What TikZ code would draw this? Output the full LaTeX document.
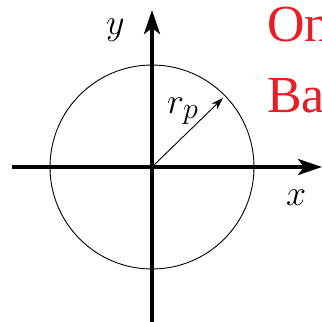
\documentclass[tikz,border=0pt]{standalone}
\usepackage{fontspec}
\newfontfamily\redfont{Liberation Serif}
\usetikzlibrary{arrows.meta}
\definecolor{redtext}{RGB}{232,30,38}
\newcommand{\bigmath}[1]{\scalebox{1.45}{\fontsize{24.88}{28}\selectfont$#1$}}
\begin{document}
\begin{tikzpicture}[x=1pt,y=-1pt,
  axis/.style={line width=3.8pt,-{Stealth[length=24pt,width=16pt,inset=6pt]}},
  thinline/.style={line width=0.9pt},
  mathlabel/.style={inner sep=0pt,anchor=base west},
  redlabel/.style={inner sep=0pt,anchor=base west,text=redtext,font=\redfont\fontsize{52}{56}\selectfont}]
\useasboundingbox (0,0) rectangle (322,322);
\coordinate (O) at (152,167);
\coordinate (xs) at (12,167);
\coordinate (xe) at (322,167);
\coordinate (ys) at (152,330);
\coordinate (ye) at (152,10);
\coordinate (rp) at (223,98);
\draw[thinline] (O) circle[radius=102];
\draw[axis] (xs) -- (xe);
\draw[axis] (ys) -- (ye);
\draw[thinline,-{Stealth[length=12pt,width=8pt,inset=4pt]}] (O) -- (rp);
\node[mathlabel] (lx) at (286,205) {\bigmath{x}};
\node[mathlabel] (ly) at (106,34) {\bigmath{y}};
\node[mathlabel] (lr) at (167,113) {\bigmath{r_p}};
\node[redlabel] (t1) at (267,41) {On};
\node[redlabel] (t2) at (267,112) {Ba};
\end{tikzpicture}
\end{document}
